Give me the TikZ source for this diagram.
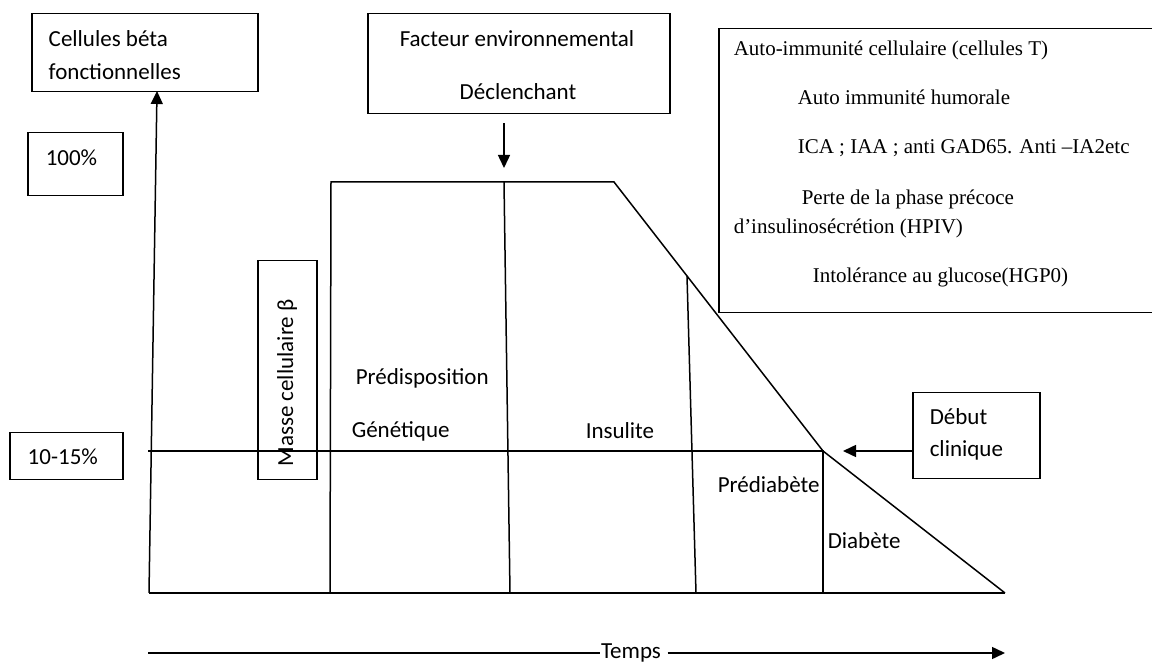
\documentclass[tikz,border=0pt]{standalone}
\usepackage{fontspec}
\setmainfont{Carlito}
\newfontfamily\timesfont{Liberation Serif}
\usetikzlibrary{arrows.meta}

\begin{document}
\begin{tikzpicture}[x=0.5pt, y=-0.5pt, line width=0.75pt]

\tikzstyle{box} = [draw, rectangle, anchor=north west, inner sep=0pt]
\tikzstyle{txt} = [anchor=base west, inner sep=0pt, font=\fontsize{11.5}{14}\selectfont]
\tikzstyle{serif} = [anchor=base west, inner sep=0pt, font=\timesfont\fontsize{10.5}{13}\selectfont]
\tikzstyle{arr} = [-{Triangle[length=6.5pt, width=6pt]}]

\useasboundingbox (0,0) rectangle (1152,662);

\node[box, minimum width=113pt, minimum height=39pt] (cel) at (31,13) {};
\node[txt] (celA) at (48,47) {Cellules béta};
\node[txt] (celB) at (48,80) {fonctionnelles};

\node[box, minimum width=47.5pt, minimum height=31.5pt] (cent) at (27,132) {};
\node[txt] (centT) at (45,166) {100\%};

\node[box, minimum width=56.5pt, minimum height=23.5pt] (dix) at (9,432) {};
\node[txt] (dixT) at (27,465) {10-15\%};

\node[box, minimum width=151pt, minimum height=50pt] (fac) at (367,13) {};
\node[txt, anchor=base] (facA) at (517,47) {Facteur environnemental};
\node[txt, anchor=base] (facB) at (518,100) {Déclenchant};

\node[box, minimum width=29.5pt, minimum height=109.5pt] (masse) at (257,260) {};
\node[txt, anchor=center, rotate=90] (masseT) at (287,383) {Masse cellulaire β};

\node[box, minimum width=63.5pt, minimum height=43pt] (debut) at (912,392) {};
\node[txt] (debutA) at (929,425) {Début};
\node[txt] (debutB) at (929,457) {clinique};

\node[box, minimum width=221pt, minimum height=142pt] (immun) at (718,28) {};
\node[serif] (im1) at (733,56) {Auto-immunité cellulaire (cellules T)};
\node[serif] (im2) at (797,105) {Auto immunité humorale};
\node[serif] (im3) at (797,154) {ICA ; IAA ; anti GAD65. Anti –IA2etc};
\node[serif] (im4) at (801,205) {Perte de la phase précoce};
\node[serif] (im5) at (733,234) {d’insulinosécrétion (HPIV)};
\node[serif] (im6) at (812,283) {Intolérance au glucose(HGP0)};

\node[txt] (pre1) at (355,385) {Prédisposition};
\node[txt] (pre2) at (351,438) {Génétique};
\node[txt] (ins) at (585,439) {Insulite};
\node[txt] (prediab) at (717,493) {Prédiabète};
\node[txt] (diab) at (827,549) {Diabète};
\node[txt, anchor=base] (temps) at (631,658) {Temps};

\coordinate (o) at (149,593);
\coordinate (ytop) at (157,91);
\coordinate (p1b) at (330,593);
\coordinate (p1t) at (331,182);
\coordinate (p2b) at (510,593);
\coordinate (p2t) at (504,182);
\coordinate (k) at (614,182);
\coordinate (p3t) at (687,276);
\coordinate (p3b) at (696,593);
\coordinate (dia) at (823,451);
\coordinate (dbot) at (823,593);
\coordinate (fin) at (1005,593);
\coordinate (h0) at (148,451);
\coordinate (t0) at (148,653);
\coordinate (t1) at (1005,653);

\draw[arr] (o) -- (ytop);
\draw (o) -- (fin);
\draw (p1b) -- (p1t) -- (k) -- (dia) -- (fin);
\draw (p2b) -- (p2t);
\draw (p3b) -- (p3t);
\draw (h0) -- (dia) -- (dbot);
\draw[arr, shorten <=4.5pt, shorten >=7pt] (fac.south -| p2t) -- (p2t);
\draw[arr, shorten >=10pt] (debut.west |- dia) -- (dia);
\draw (t0) -- (temps.west |- t0);
\draw[arr] ([xshift=3pt]temps.east |- t1) -- (t1);
\end{tikzpicture}
\end{document}
